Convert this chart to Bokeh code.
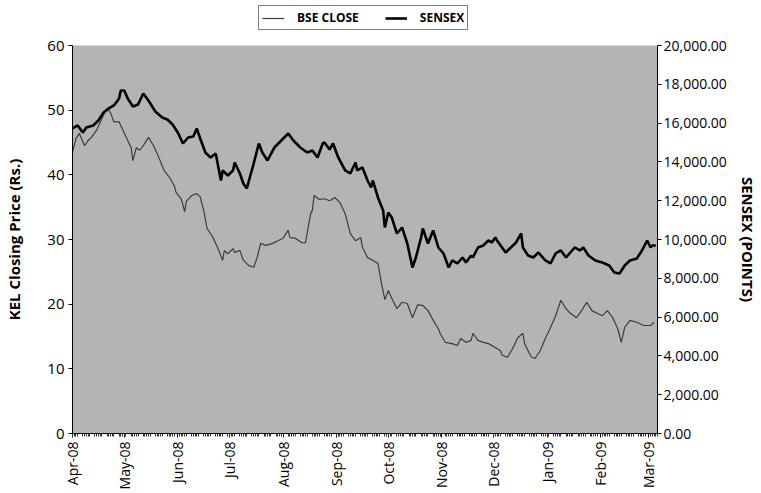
import math
import pandas as pd
from bokeh.plotting import figure
from bokeh.layouts import column
from bokeh.models import (Range1d, LinearAxis, FixedTicker, NumeralTickFormatter,
                          DatetimeTickFormatter, Legend, LegendItem, ColumnDataSource)
from bokeh.embed import file_html
from bokeh.resources import INLINE

# ---------------- data ----------------
sensex_dates = [
    "2008-04-01", "2008-04-04", "2008-04-07", "2008-04-09", "2008-04-13", "2008-04-16", "2008-04-19", "2008-04-22", "2008-04-25", "2008-04-28",
    "2008-04-29", "2008-05-01", "2008-05-03", "2008-05-06", "2008-05-09", "2008-05-12", "2008-05-15", "2008-05-19", "2008-05-23", "2008-05-26",
    "2008-05-29", "2008-06-01", "2008-06-04", "2008-06-07", "2008-06-10", "2008-06-12", "2008-06-14", "2008-06-17", "2008-06-20", "2008-06-23",
    "2008-06-26", "2008-06-27", "2008-06-30", "2008-07-03", "2008-07-04", "2008-07-07", "2008-07-09", "2008-07-11", "2008-07-15", "2008-07-18",
    "2008-07-20", "2008-07-23", "2008-07-27", "2008-07-31", "2008-08-04", "2008-08-07", "2008-08-11", "2008-08-15", "2008-08-18", "2008-08-21",
    "2008-08-24", "2008-08-25", "2008-08-28", "2008-08-30", "2008-09-02", "2008-09-06", "2008-09-09", "2008-09-12", "2008-09-13", "2008-09-16",
    "2008-09-19", "2008-09-21", "2008-09-22", "2008-09-25", "2008-09-28", "2008-09-29", "2008-10-01", "2008-10-03", "2008-10-06", "2008-10-09",
    "2008-10-12", "2008-10-15", "2008-10-17", "2008-10-20", "2008-10-21", "2008-10-24", "2008-10-27", "2008-10-30", "2008-11-02", "2008-11-05",
    "2008-11-07", "2008-11-10", "2008-11-13", "2008-11-15", "2008-11-18", "2008-11-19", "2008-11-22", "2008-11-25", "2008-11-28", "2008-11-30",
    "2008-12-02", "2008-12-03", "2008-12-08", "2008-12-11", "2008-12-14", "2008-12-17", "2008-12-18", "2008-12-21", "2008-12-24", "2008-12-27",
    "2008-12-31", "2009-01-03", "2009-01-06", "2009-01-09", "2009-01-12", "2009-01-14", "2009-01-17", "2009-01-20", "2009-01-22", "2009-01-25",
    "2009-01-29", "2009-02-02", "2009-02-06", "2009-02-09", "2009-02-12", "2009-02-15", "2009-02-18", "2009-02-22", "2009-02-25", "2009-02-28",
    "2009-03-02", "2009-03-03", "2009-03-05",
]
sensex_points = [
    15723, 15877, 15517, 15774, 15877, 16135, 16548, 16754, 16908, 17269,
    17682, 17682, 17269, 16857, 16960, 17527, 17166, 16599, 16290, 16187,
    15929, 15517, 14950, 15259, 15310, 15723, 15207, 14486, 14228, 14434,
    13042, 13558, 13300, 13558, 13970, 13403, 12888, 12630, 13919, 14950,
    14486, 14073, 14743, 15104, 15465, 15104, 14743, 14486, 14589, 14228,
    14950, 15001, 14640, 14950, 14228, 13558, 13403, 13970, 13558, 13712,
    13042, 12681, 13042, 12166, 11496, 10619, 11393, 11135, 10310, 10619,
    9795, 8557, 9073, 10104, 10568, 9795, 10465, 9588, 9279, 8557,
    8918, 8764, 9073, 8815, 9176, 9073, 9588, 9691, 9949, 9846,
    10104, 9949, 9331, 9588, 9846, 10310, 9588, 9176, 9073, 9331,
    8918, 8764, 9279, 9434, 9073, 9279, 9588, 9434, 9588, 9176,
    8918, 8815, 8660, 8300, 8248, 8660, 8918, 9021, 9434, 9949,
    9588, 9691, 9691,
]

bse_dates = [
    "2008-04-01", "2008-04-03", "2008-04-05", "2008-04-08", "2008-04-10", "2008-04-12", "2008-04-15", "2008-04-18", "2008-04-21", "2008-04-23",
    "2008-04-25", "2008-04-28", "2008-04-29", "2008-05-02", "2008-05-05", "2008-05-06", "2008-05-08", "2008-05-10", "2008-05-12", "2008-05-15",
    "2008-05-18", "2008-05-21", "2008-05-24", "2008-05-27", "2008-05-30", "2008-05-31", "2008-06-03", "2008-06-05", "2008-06-06", "2008-06-09",
    "2008-06-12", "2008-06-14", "2008-06-16", "2008-06-18", "2008-06-21", "2008-06-24", "2008-06-27", "2008-06-28", "2008-06-30", "2008-07-03",
    "2008-07-04", "2008-07-07", "2008-07-09", "2008-07-12", "2008-07-15", "2008-07-17", "2008-07-19", "2008-07-22", "2008-07-26", "2008-07-29",
    "2008-08-01", "2008-08-04", "2008-08-05", "2008-08-08", "2008-08-12", "2008-08-14", "2008-08-17", "2008-08-18", "2008-08-19", "2008-08-22",
    "2008-08-25", "2008-08-28", "2008-08-31", "2008-09-03", "2008-09-06", "2008-09-09", "2008-09-12", "2008-09-15", "2008-09-16", "2008-09-19",
    "2008-09-22", "2008-09-25", "2008-09-27", "2008-09-29", "2008-10-01", "2008-10-03", "2008-10-06", "2008-10-09", "2008-10-12", "2008-10-15",
    "2008-10-18", "2008-10-21", "2008-10-24", "2008-10-27", "2008-10-30", "2008-10-31", "2008-11-03", "2008-11-07", "2008-11-10", "2008-11-12",
    "2008-11-15", "2008-11-18", "2008-11-19", "2008-11-22", "2008-11-25", "2008-11-28", "2008-12-02", "2008-12-05", "2008-12-06", "2008-12-09",
    "2008-12-12", "2008-12-15", "2008-12-18", "2008-12-19", "2008-12-21", "2008-12-23", "2008-12-25", "2008-12-28", "2008-12-31", "2009-01-03",
    "2009-01-06", "2009-01-09", "2009-01-12", "2009-01-14", "2009-01-18", "2009-01-21", "2009-01-24", "2009-01-27", "2009-01-30", "2009-02-02",
    "2009-02-05", "2009-02-08", "2009-02-11", "2009-02-13", "2009-02-15", "2009-02-18", "2009-02-22", "2009-02-26", "2009-03-02", "2009-03-04",
]
bse_close = [
    43.5, 45.6, 46.4, 44.5, 45.3, 45.8, 46.9, 48.7, 50.3, 49.6,
    48.2, 48.2, 47.6, 45.9, 44.2, 42.2, 44.2, 43.8, 44.5, 45.8,
    44.5, 42.7, 40.7, 39.7, 38.3, 37.3, 36.3, 34.3, 35.9, 36.8,
    37.1, 36.6, 34.5, 31.7, 30.5, 28.8, 26.8, 28.3, 27.8, 28.6,
    28.0, 28.3, 26.8, 26.0, 25.7, 27.2, 29.4, 29.1, 29.4, 29.8,
    30.2, 31.4, 30.3, 30.2, 29.5, 29.5, 34.0, 34.5, 36.8, 36.2,
    36.3, 36.0, 36.5, 35.7, 34.0, 30.9, 29.8, 30.3, 28.8, 27.2,
    26.8, 26.3, 23.3, 20.7, 22.1, 20.9, 19.3, 20.3, 20.1, 17.9,
    19.9, 19.8, 19.0, 17.5, 16.2, 15.5, 14.1, 13.9, 13.6, 14.7,
    14.1, 14.4, 15.5, 14.4, 14.1, 13.9, 13.3, 12.8, 12.1, 11.8,
    13.1, 14.8, 15.5, 13.9, 12.8, 11.8, 11.6, 12.8, 14.7, 16.4,
    18.2, 20.6, 19.3, 18.7, 17.9, 19.0, 20.3, 19.0, 18.6, 18.2,
    19.0, 17.9, 16.2, 14.1, 16.4, 17.5, 17.2, 16.7, 16.7, 17.2,
]

month_ticks = ["2008-04-01", "2008-05-01", "2008-06-01", "2008-07-01", "2008-08-01", "2008-09-01",
               "2008-10-01", "2008-11-01", "2008-12-01", "2009-01-01", "2009-02-01", "2009-03-01"]
left_ticks = [0, 10, 20, 30, 40, 50, 60]
right_ticks = [0, 2000, 4000, 6000, 8000, 10000, 12000, 14000, 16000, 18000, 20000]

x_start, x_end = "2008-04-01", "2009-03-06"

FONT = "Open Sans"
BSE_STYLE = dict(line_color="#3c3c3c", line_width=1.2)
SX_STYLE = dict(line_color="black", line_width=2.6)


def to_ms(ts):
    return int((pd.Timestamp(ts) - pd.Timestamp("1970-01-01")) // pd.Timedelta(milliseconds=1))


sx_src = ColumnDataSource(dict(x=pd.to_datetime(sensex_dates), y=sensex_points))
bse_src = ColumnDataSource(dict(x=pd.to_datetime(bse_dates), y=bse_close))

# ---------------- main chart ----------------
p = figure(width=761, height=458, x_axis_type="datetime",
           output_backend="svg", toolbar_location=None,
           x_range=Range1d(pd.Timestamp(x_start), pd.Timestamp(x_end)),
           y_range=Range1d(0, 60),
           min_border_left=72, min_border_right=104, min_border_top=10, min_border_bottom=60)

p.background_fill_color = "#b4b4b4"
p.border_fill_color = "white"
p.outline_line_color = None
p.xgrid.visible = False
p.ygrid.visible = False

p.extra_y_ranges = {"sensex": Range1d(0, 20000)}

p.line("x", "y", source=bse_src, **BSE_STYLE)
p.line("x", "y", source=sx_src, y_range_name="sensex", **SX_STYLE)

# left axis
ya = p.yaxis[0]
ya.ticker = FixedTicker(ticks=left_ticks)
ya.axis_label = "KEL Closing Price (Rs.)"
ya.axis_label_text_font = FONT
ya.axis_label_text_font_style = "bold"
ya.axis_label_text_font_size = "15px"
ya.axis_label_text_color = "black"
ya.axis_label_standoff = 20
ya.major_label_text_font = FONT
ya.major_label_text_font_size = "15px"
ya.major_label_text_color = "black"
ya.major_label_standoff = 4
ya.major_tick_out = 4
ya.major_tick_in = 0
ya.minor_tick_out = 0
ya.minor_tick_in = 0
ya.axis_line_color = "black"
ya.major_tick_line_color = "black"

# right axis
ra = LinearAxis(y_range_name="sensex", ticker=FixedTicker(ticks=right_ticks),
                formatter=NumeralTickFormatter(format="0,0.00"))
ra.axis_label = "SENSEX (POINTS)"
ra.axis_label_text_font = FONT
ra.axis_label_text_font_style = "bold"
ra.axis_label_text_font_size = "15px"
ra.axis_label_text_color = "black"
ra.axis_label_standoff = 8
ra.major_label_text_font = FONT
ra.major_label_text_font_size = "14px"
ra.major_label_text_color = "black"
ra.major_label_standoff = 2
ra.major_tick_out = 4
ra.major_tick_in = 0
ra.minor_tick_out = 0
ra.minor_tick_in = 0
ra.axis_line_color = "black"
p.add_layout(ra, "right")

# bottom axis
minor_days = pd.bdate_range(x_start, x_end)
xa = p.xaxis[0]
xa.ticker = FixedTicker(ticks=[to_ms(t) for t in month_ticks],
                        minor_ticks=[to_ms(t) for t in minor_days])
fmt = "%b-%y"
xa.formatter = DatetimeTickFormatter(milliseconds=fmt, seconds=fmt, minsec=fmt, minutes=fmt,
                                     hourmin=fmt, hours=fmt, days=fmt, months=fmt, years=fmt)
xa.major_label_orientation = math.pi / 2
xa.major_label_text_font = FONT
xa.major_label_text_font_size = "14px"
xa.major_label_text_color = "black"
xa.major_label_standoff = 4
xa.major_tick_out = 4
xa.major_tick_in = 0
xa.minor_tick_out = 3
xa.minor_tick_in = 0
xa.minor_tick_line_color = "#333333"
xa.axis_line_color = "black"

# ---------------- legend strip above the chart ----------------
lg = figure(width=761, height=35, output_backend="svg", toolbar_location=None,
            x_range=Range1d(0, 1), y_range=Range1d(0, 1),
            min_border_left=0, min_border_right=0, min_border_top=0, min_border_bottom=0)
lg.axis.visible = False
lg.xgrid.visible = False
lg.ygrid.visible = False
lg.outline_line_color = None
lg.background_fill_color = "white"
lg.border_fill_color = "white"
nan = float("nan")
key_bse = lg.line(x=[nan], y=[nan], **BSE_STYLE)
key_sx = lg.line(x=[nan], y=[nan], **SX_STYLE)

legend = Legend(items=[LegendItem(label="BSE CLOSE", renderers=[key_bse]),
                       LegendItem(label="SENSEX", renderers=[key_sx])],
                orientation="horizontal", location=(186, 5))
legend.border_line_color = "black"
legend.border_line_width = 1
legend.background_fill_color = "white"
legend.background_fill_alpha = 1
legend.label_text_font = FONT
legend.label_text_font_style = "bold"
legend.label_text_font_size = "12px"
legend.label_text_color = "black"
legend.glyph_width = 22
legend.glyph_height = 10
legend.label_standoff = 13
legend.spacing = 26
legend.padding = 3
legend.margin = 0
lg.add_layout(legend, "center")

layout = column(lg, p, spacing=0)
open("out.html", "w").write(file_html(layout, INLINE))
